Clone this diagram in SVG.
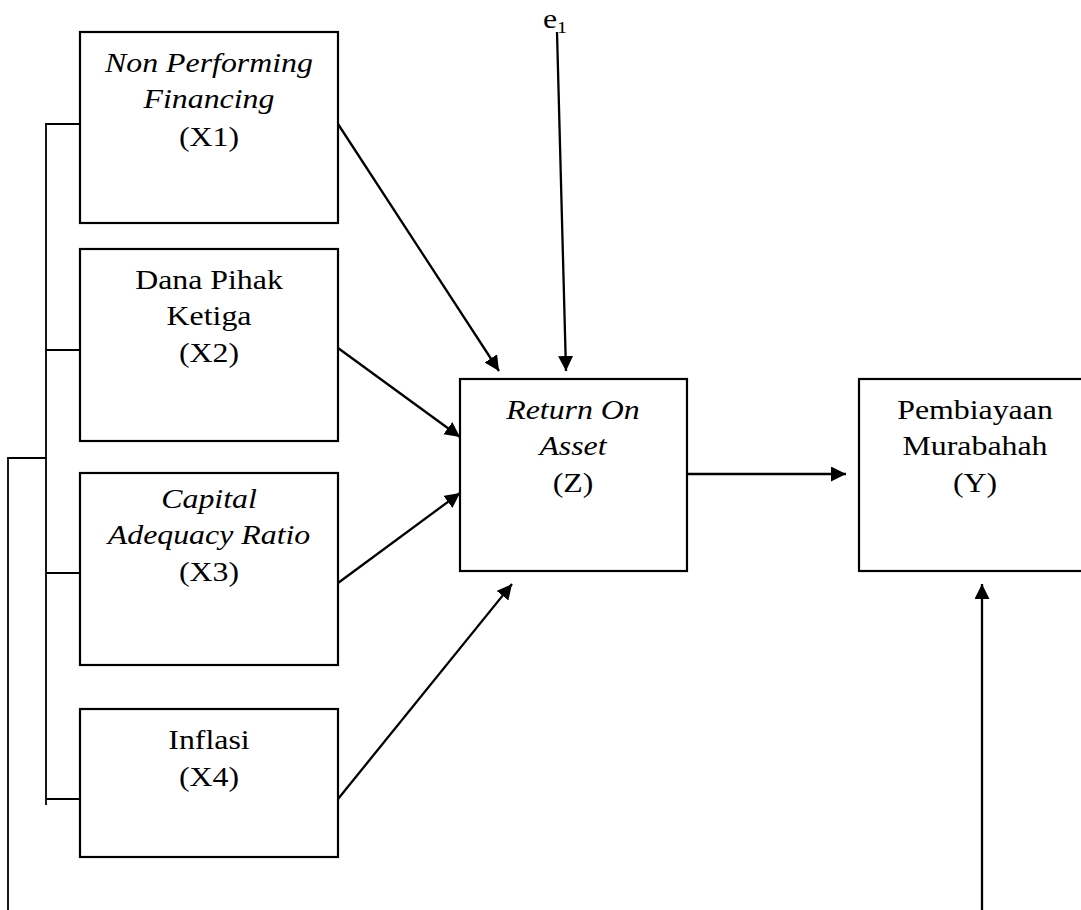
<svg xmlns="http://www.w3.org/2000/svg" width="1081" height="910" viewBox="0 0 1081 910">
<style>
.box{fill:#fff;stroke:#000;stroke-width:2.2}
.t{font-family:"Liberation Serif","Times New Roman",serif;font-size:27px;fill:#000;text-anchor:middle}
.i{font-style:italic}
.ln{fill:none;stroke:#000;stroke-width:1.8}
.ar{fill:none;stroke:#000;stroke-width:2.3;marker-end:url(#ah)}
</style>
<defs>
<marker id="ah" markerUnits="userSpaceOnUse" markerWidth="17" markerHeight="17" refX="15" refY="7.5" orient="auto">
<path d="M0,0 L15,7.5 L0,15 Z" fill="#000"/>
</marker>
</defs>
<rect width="1081" height="910" fill="#fff"/>
<g id="connectors">
<polyline class="ln" points="80,124 46,124 46,805"/>
<line class="ln" x1="46" y1="350" x2="80" y2="350"/>
<line class="ln" x1="46" y1="573" x2="80" y2="573"/>
<line class="ln" x1="46" y1="799" x2="80" y2="799"/>
<polyline class="ln" points="46,458 8,458 8,910"/>
<line class="ar" x1="338" y1="124" x2="499" y2="371"/>
<line class="ar" x1="338" y1="348" x2="460" y2="437"/>
<line class="ar" x1="338" y1="583" x2="460" y2="493"/>
<line class="ar" x1="338" y1="799" x2="512" y2="584"/>
<line class="ar" x1="557" y1="32" x2="566" y2="371"/>
<line class="ar" x1="687" y1="474" x2="846" y2="474"/>
<line class="ar" x1="982" y1="910" x2="982" y2="584"/>
</g>
<g id="e1">
<g transform="translate(550,0) scale(1.18,1)"><text class="t" x="0" y="28">e</text></g>
<g transform="translate(562,0) scale(1.18,1)"><text class="t" x="0" y="33" style="font-size:17px">1</text></g>
</g>
<g id="X1">
<rect class="box" x="80" y="32" width="258" height="191"/>
<g transform="translate(209,0) scale(1.18,1)">
<text class="t i" x="0" y="72">Non Performing</text>
<text class="t i" x="0" y="108">Financing</text>
<text class="t" x="0" y="146">(X1)</text>
</g>
</g>
<g id="X2">
<rect class="box" x="80" y="249" width="258" height="192"/>
<g transform="translate(209,0) scale(1.18,1)">
<text class="t" x="0" y="289">Dana Pihak</text>
<text class="t" x="0" y="325">Ketiga</text>
<text class="t" x="0" y="362">(X2)</text>
</g>
</g>
<g id="X3">
<rect class="box" x="80" y="473" width="258" height="192"/>
<g transform="translate(209,0) scale(1.18,1)">
<text class="t i" x="0" y="508">Capital</text>
<text class="t i" x="0" y="544">Adequacy Ratio</text>
<text class="t" x="0" y="581">(X3)</text>
</g>
</g>
<g id="X4">
<rect class="box" x="80" y="709" width="258" height="148"/>
<g transform="translate(209,0) scale(1.18,1)">
<text class="t" x="0" y="749">Inflasi</text>
<text class="t" x="0" y="786">(X4)</text>
</g>
</g>
<g id="Z">
<rect class="box" x="460" y="379" width="227" height="192"/>
<g transform="translate(573,0) scale(1.18,1)">
<text class="t i" x="0" y="419">Return On</text>
<text class="t i" x="0" y="455">Asset</text>
<text class="t" x="0" y="492">(Z)</text>
</g>
</g>
<g id="Y">
<rect class="box" x="859" y="379" width="232" height="192"/>
<g transform="translate(975,0) scale(1.18,1)">
<text class="t" x="0" y="419">Pembiayaan</text>
<text class="t" x="0" y="455">Murabahah</text>
<text class="t" x="0" y="492">(Y)</text>
</g>
</g>
</svg>
